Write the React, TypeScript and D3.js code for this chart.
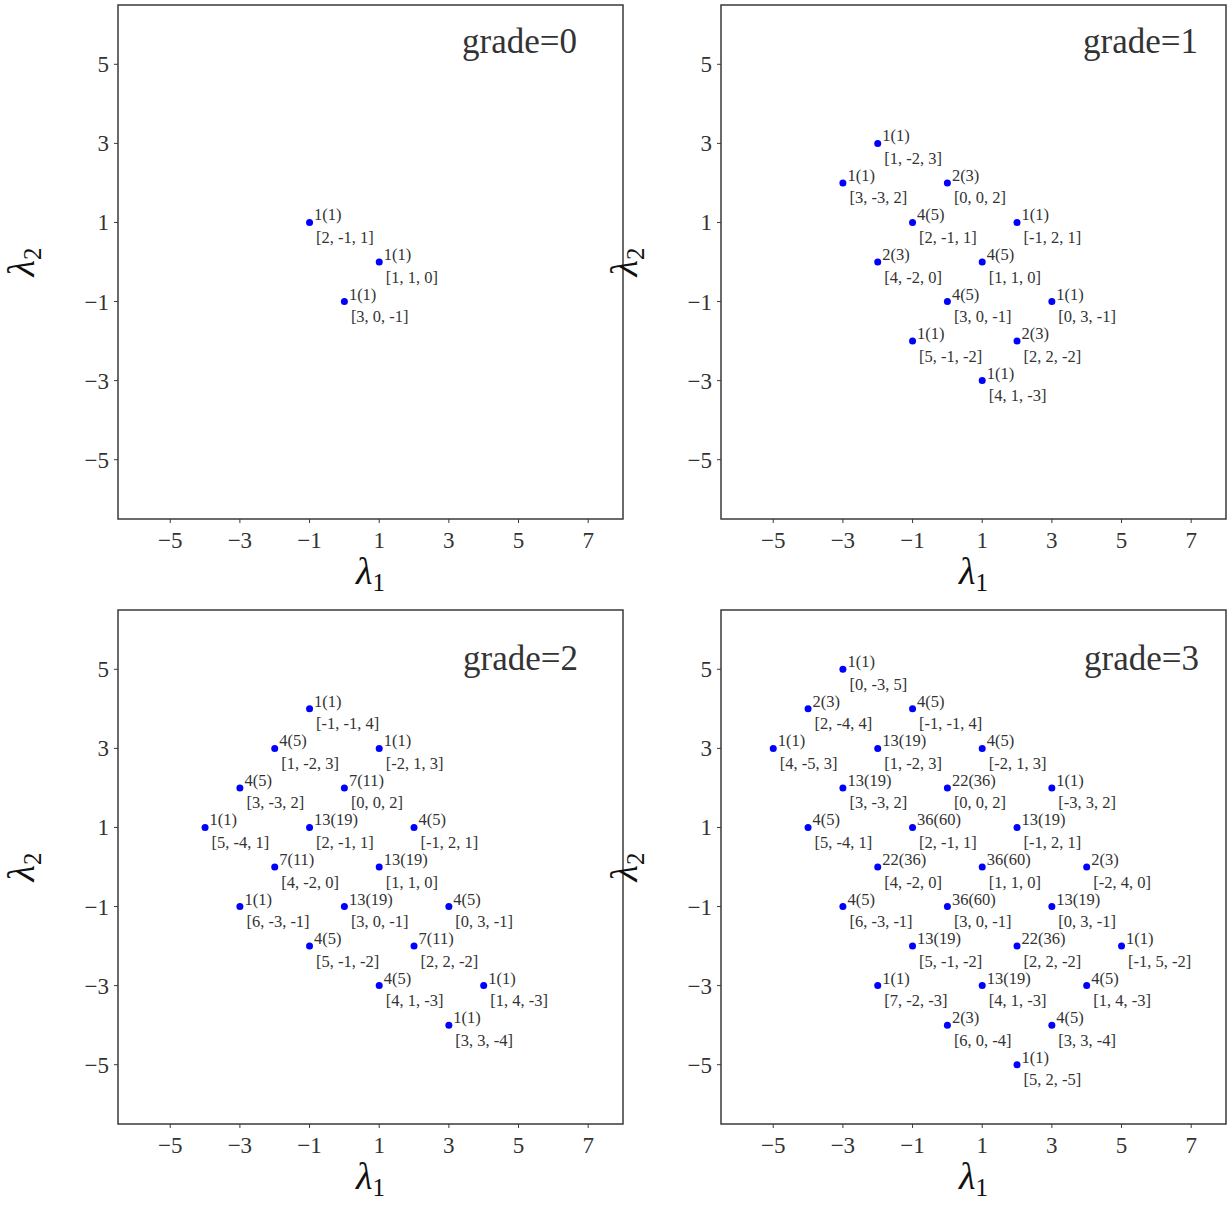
import React from "react";
import * as d3 from "d3";

// Weight diagrams: each weight [a, b, c] is plotted at (λ1, λ2) = (b, c),
// annotated with its multiplicity "m(n)" and the weight itself.
const GRADES = [0, 1, 2, 3];

const GRADE0_WEIGHTS = [[2, -1, 1], [1, 1, 0], [3, 0, -1]];
const GRADE0_MULT = [[1, 1], [1, 1], [1, 1]];

const GRADE1_WEIGHTS = [
  [1, -2, 3], [3, -3, 2], [0, 0, 2], [2, -1, 1], [-1, 2, 1], [4, -2, 0],
  [1, 1, 0], [3, 0, -1], [0, 3, -1], [5, -1, -2], [2, 2, -2], [4, 1, -3],
];
const GRADE1_MULT = [
  [1, 1], [1, 1], [2, 3], [4, 5], [1, 1], [2, 3],
  [4, 5], [4, 5], [1, 1], [1, 1], [2, 3], [1, 1],
];

const GRADE2_WEIGHTS = [
  [-1, -1, 4], [1, -2, 3], [-2, 1, 3], [3, -3, 2], [0, 0, 2], [5, -4, 1],
  [2, -1, 1], [-1, 2, 1], [4, -2, 0], [1, 1, 0], [6, -3, -1], [3, 0, -1],
  [0, 3, -1], [5, -1, -2], [2, 2, -2], [4, 1, -3], [1, 4, -3], [3, 3, -4],
];
const GRADE2_MULT = [
  [1, 1], [4, 5], [1, 1], [4, 5], [7, 11], [1, 1],
  [13, 19], [4, 5], [7, 11], [13, 19], [1, 1], [13, 19],
  [4, 5], [4, 5], [7, 11], [4, 5], [1, 1], [1, 1],
];

const GRADE3_WEIGHTS = [
  [0, -3, 5], [2, -4, 4], [-1, -1, 4], [4, -5, 3], [1, -2, 3], [-2, 1, 3],
  [3, -3, 2], [0, 0, 2], [-3, 3, 2], [5, -4, 1], [2, -1, 1], [-1, 2, 1],
  [4, -2, 0], [1, 1, 0], [-2, 4, 0], [6, -3, -1], [3, 0, -1], [0, 3, -1],
  [5, -1, -2], [2, 2, -2], [-1, 5, -2], [7, -2, -3], [4, 1, -3], [1, 4, -3],
  [6, 0, -4], [3, 3, -4], [5, 2, -5],
];
const GRADE3_MULT = [
  [1, 1], [2, 3], [4, 5], [1, 1], [13, 19], [4, 5],
  [13, 19], [22, 36], [1, 1], [4, 5], [36, 60], [13, 19],
  [22, 36], [36, 60], [2, 3], [4, 5], [36, 60], [13, 19],
  [13, 19], [22, 36], [1, 1], [1, 1], [13, 19], [4, 5],
  [2, 3], [4, 5], [1, 1],
];

const WEIGHTS = [GRADE0_WEIGHTS, GRADE1_WEIGHTS, GRADE2_WEIGHTS, GRADE3_WEIGHTS];
const MULTS = [GRADE0_MULT, GRADE1_MULT, GRADE2_MULT, GRADE3_MULT];

const X_TICKS = [-5, -3, -1, 1, 3, 5, 7];
const Y_TICKS = [-5, -3, -1, 1, 3, 5];
const X_DOMAIN = [-6.5, 8];
const Y_DOMAIN = [-6.5, 6.5];

// Panel frames (left, top) and position of the grade caption relative to the frame's top-right corner.
const PANELS = [
  { left: 118, top: 5, capDx: -46, capDy: 48 },
  { left: 721, top: 5, capDx: -28, capDy: 48 },
  { left: 118, top: 610, capDx: -45, capDy: 60 },
  { left: 721, top: 610, capDx: -27, capDy: 60 },
];
const PANEL_W = 505;
const PANEL_H = 514;

const FONT = "'Liberation Serif', 'Times New Roman', serif";
const TEXT = "#333333";
const FRAME = "#3a3a3a";
const DOT = "#0000ff";

const fmtTick = (v: number) => (v < 0 ? "\u2212" + Math.abs(v) : String(v));

function Panel({ index }: { index: number }) {
  const p = PANELS[index];
  const x = d3.scaleLinear().domain(X_DOMAIN).range([p.left, p.left + PANEL_W]);
  const y = d3.scaleLinear().domain(Y_DOMAIN).range([p.top + PANEL_H, p.top]);
  const weights = WEIGHTS[index];
  const mults = MULTS[index];
  const bottom = p.top + PANEL_H;
  const cx = p.left + PANEL_W / 2;
  const cy = p.top + PANEL_H / 2;

  return (
    <g>
      {/* frame */}
      <rect x={p.left} y={p.top} width={PANEL_W} height={PANEL_H} fill="none" stroke={FRAME} strokeWidth={1.5} />

      {/* x axis ticks */}
      {X_TICKS.map((t) => (
        <g key={"x" + t}>
          <line x1={x(t)} x2={x(t)} y1={bottom} y2={bottom + 4} stroke={FRAME} strokeWidth={1} />
          <text x={x(t)} y={bottom + 29} textAnchor="middle" fontSize={23} fill={TEXT} fontFamily={FONT}>
            {fmtTick(t)}
          </text>
        </g>
      ))}

      {/* y axis ticks */}
      {Y_TICKS.map((t) => (
        <g key={"y" + t}>
          <line x1={p.left - 4} x2={p.left} y1={y(t)} y2={y(t)} stroke={FRAME} strokeWidth={1} />
          <text x={p.left - 9} y={y(t) + 8} textAnchor="end" fontSize={23} fill={TEXT} fontFamily={FONT}>
            {fmtTick(t)}
          </text>
        </g>
      ))}

      {/* axis labels */}
      <text x={cx} y={bottom + 65} textAnchor="middle" fontSize={38} fill="#111" fontFamily={FONT}>
        <tspan fontStyle="italic">λ</tspan>
        <tspan fontSize={25} dy={7}>1</tspan>
      </text>
      <text
        transform={`translate(${p.left - 84},${cy}) rotate(-90)`}
        textAnchor="middle"
        fontSize={38}
        fill="#111"
        fontFamily={FONT}
      >
        <tspan fontStyle="italic">λ</tspan>
        <tspan fontSize={25} dy={7}>2</tspan>
      </text>

      {/* grade caption */}
      <text
        x={p.left + PANEL_W + p.capDx}
        y={p.top + p.capDy}
        textAnchor="end"
        fontSize={35}
        fill={TEXT}
        fontFamily={FONT}
      >
        {`grade=${GRADES[index]}`}
      </text>

      {/* weights */}
      {weights.map((w, i) => {
        const px = x(w[1]);
        const py = y(w[2]);
        const [m, n] = mults[i];
        return (
          <g key={i}>
            <circle cx={px} cy={py} r={3.5} fill={DOT} />
            <text x={px + 4.5} y={py - 2} fontSize={16.5} fill={TEXT} fontFamily={FONT}>
              {`${m}(${n})`}
            </text>
            <text x={px + 6.5} y={py + 20.5} fontSize={16.5} fill={TEXT} fontFamily={FONT}>
              {`[${w[0]}, ${w[1]}, ${w[2]}]`}
            </text>
          </g>
        );
      })}
    </g>
  );
}

export default function App() {
  return (
    <svg
      width={1231}
      height={1211}
      viewBox="0 0 1231 1211"
      style={{ position: "absolute", left: 0, top: 0, display: "block", background: "#fff" }}
    >
      <rect x={0} y={0} width={1231} height={1211} fill="#fff" />
      {GRADES.map((g, i) => (
        <Panel key={g} index={i} />
      ))}
    </svg>
  );
}
